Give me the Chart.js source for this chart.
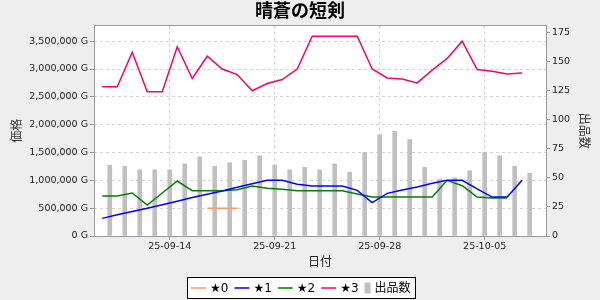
<!DOCTYPE html>
<html>
<head>
<meta charset="utf-8">
<script src="https://cdn.jsdelivr.net/npm/chart.js@4.4.0/dist/chart.umd.min.js"></script>
<style>
  html, body { margin: 0; padding: 0; background: #eeeeee; }
</style>
</head>
<body>
<canvas id="priceChart" width="600" height="300"></canvas>
<script>
// Data (one entry per day)
const days = [
  "25-09-09", "25-09-10", "25-09-11", "25-09-12", "25-09-13", "25-09-14", "25-09-15",
  "25-09-16", "25-09-17", "25-09-18", "25-09-19", "25-09-20", "25-09-21", "25-09-22",
  "25-09-23", "25-09-24", "25-09-25", "25-09-26", "25-09-27", "25-09-28", "25-09-29",
  "25-09-30", "25-10-01", "25-10-02", "25-10-03", "25-10-04", "25-10-05", "25-10-06",
  "25-10-07"
];
const tickLabels = ["25-09-14", "25-09-21", "25-09-28", "25-10-05"];
const priceTicks = [0, 500000, 1000000, 1500000, 2000000, 2500000, 3000000, 3500000];
const countTicks = [0, 25, 50, 75, 100, 125, 150, 175];

const star0 = [null, null, null, null, null, null, null, 500000, 500000, 500000,
  null, null, null, null, null, null, null, null, null, null, null, null, null, null,
  null, null, null, null, null];
const star1 = [317000, 380000, 440000, 500000, 560000, 625000, 690000, 750000, 810000,
  875000, 940000, 1000000, 1000000, 928000, 898000, 898000, 898000, 820000, 600000,
  766000, 826000, 880000, 946000, 1000000, 1000000, 845000, 700000, 700000, 1000000];
const star2 = [719000, 719000, 772000, 557000, 772000, 988000, 814000, 814000, 814000,
  832000, 898000, 856000, 838000, 814000, 814000, 814000, 814000, 754000, 700000,
  700000, 700000, 700000, 700000, 1000000, 904000, 700000, 683000, 683000, null];
const star3 = [2680000, 2680000, 3300000, 2590000, 2590000, 3400000, 2830000, 3230000,
  3000000, 2900000, 2610000, 2740000, 2810000, 3000000, 3590000, 3590000, 3590000,
  3590000, 3000000, 2840000, 2820000, 2750000, 2980000, 3190000, 3500000, 2990000,
  2960000, 2910000, 2930000];
const listings = [61, 60, 57, 57, 57, 62, 68, 60, 63, 65, 69, 61, 57, 59, 57, 62, 55,
  72, 87, 90, 83, 59, 49, 50, 56, 72, 69, 60, 54];

const FONT = '"DejaVu Sans", "Noto Sans CJK JP", sans-serif';

// prices are sampled mid-day, listing counts at the end of the day
const linePoints = (arr) => arr.map((v, i) => ({ x: i + 0.5, y: v }));
const barPoints = (arr) => arr.map((v, i) => ({ x: i + 1, y: v }));

const lineSet = (label, data, color) => ({
  type: "line",
  label: label,
  data: linePoints(data),
  borderColor: color,
  backgroundColor: color,
  borderWidth: 1.5,
  pointRadius: 0,
  tension: 0,
  spanGaps: false,
  yAxisID: "y"
});

// white plot area + grey frame
const frame = {
  id: "frame",
  beforeDraw(chart) {
    const { ctx, chartArea: a } = chart;
    ctx.save();
    ctx.fillStyle = "#eeeeee";
    ctx.fillRect(0, 0, chart.width, chart.height);
    ctx.fillStyle = "#ffffff";
    ctx.fillRect(a.left, a.top, a.right - a.left, a.bottom - a.top);
    ctx.restore();
  },
  afterDatasetsDraw(chart) {
    const { ctx, chartArea: a } = chart;
    const l = Math.floor(a.left) + 0.5, t = Math.floor(a.top) + 0.5;
    const r = Math.floor(a.right) + 0.5, b = Math.floor(a.bottom) + 0.5;
    ctx.save();
    ctx.strokeStyle = "#999999";
    ctx.lineWidth = 1;
    ctx.strokeRect(l, t, r - l, b - t);
    ctx.restore();
  }
};

// boxed legend at the bottom
const boxLegend = {
  id: "boxLegend",
  afterDraw(chart) {
    const ctx = chart.ctx;
    ctx.save();
    ctx.font = "12px " + FONT;
    const items = chart.data.datasets.map((ds) => {
      const isBar = ds.type === "bar";
      return {
        text: ds.label,
        color: isBar ? ds.backgroundColor : ds.borderColor,
        isBar: isBar,
        sym: isBar ? 6 : 15,
        tw: ctx.measureText(ds.label).width
      };
    });
    const gap = 4, itemGap = 6;
    let total = 0;
    items.forEach((it, i) => { total += it.sym + gap + it.tw + (i ? itemGap : 0); });
    const boxW = Math.round(total + 8), boxH = 21;
    const bx = Math.round(301 - boxW / 2) + 0.5;
    const by = chart.height - 22.5;
    ctx.fillStyle = "#ffffff";
    ctx.fillRect(bx, by, boxW, boxH);
    ctx.strokeStyle = "#000000";
    ctx.lineWidth = 1;
    ctx.strokeRect(bx, by, boxW, boxH);
    const cy = by + boxH / 2;
    let x = bx + 3.5;
    ctx.textBaseline = "middle";
    items.forEach((it, i) => {
      if (i) x += itemGap;
      if (it.isBar) {
        ctx.fillStyle = it.color;
        ctx.fillRect(x, cy - 5.5, it.sym, 11);
      } else {
        ctx.strokeStyle = it.color;
        ctx.lineWidth = 1.5;
        ctx.beginPath();
        ctx.moveTo(x, cy);
        ctx.lineTo(x + it.sym, cy);
        ctx.stroke();
      }
      x += it.sym + gap;
      ctx.fillStyle = "#000000";
      ctx.fillText(it.text, x, cy + 0.5);
      x += it.tw;
    });
    ctx.restore();
  }
};

const tickFont = { family: FONT, size: 9.5 };
const titleFont = { family: FONT, size: 12 };

new Chart(document.getElementById("priceChart").getContext("2d"), {
  data: {
    datasets: [
      lineSet("★0", star0, "#ff9966"),
      lineSet("★1", star1, "#0000ff"),
      lineSet("★2", star2, "#008000"),
      lineSet("★3", star3, "#ff0066"),
      {
        type: "bar",
        label: "出品数",
        data: barPoints(listings),
        backgroundColor: "#c0c0c0",
        barThickness: 4,
        yAxisID: "y1"
      }
    ]
  },
  options: {
    responsive: false,
    animation: false,
    devicePixelRatio: 1,
    layout: { padding: { left: 0, right: 0, top: 0, bottom: 30 } },
    plugins: {
      legend: { display: false },
      tooltip: { enabled: false },
      title: {
        display: true,
        text: "晴蒼の短剣",
        color: "#000000",
        font: { family: FONT, size: 18, weight: "bold" },
        padding: { top: 2, bottom: 2 }
      }
    },
    scales: {
      x: {
        type: "linear",
        offset: false,
        min: -0.05,
        max: 30.09,
        afterBuildTicks: (scale) => {
          scale.ticks = tickLabels.map((t) => ({ value: days.indexOf(t) }));
        },
        afterFit: (scale) => { scale.height = 34; },
        ticks: {
          autoSkip: false,
          maxRotation: 0,
          padding: 1,
          color: "#222222",
          font: tickFont,
          callback: (v, i) => tickLabels[i]
        },
        grid: { offset: false, color: "#d4d4d4", tickColor: "#999999", tickLength: 4 },
        border: { display: false, dash: [3, 3] },
        title: {
          display: true,
          text: "日付",
          color: "#222222",
          font: titleFont,
          padding: { top: 0, bottom: 0 }
        }
      },
      y: {
        position: "left",
        min: 0,
        max: 3780000,
        afterBuildTicks: (scale) => {
          scale.ticks = priceTicks.map((v) => ({ value: v }));
        },
        afterFit: (scale) => { scale.width = 94; },
        ticks: {
          padding: 2,
          color: "#222222",
          font: tickFont,
          callback: (v) => v.toLocaleString("en-US") + " G"
        },
        grid: { color: "#d4d4d4", tickColor: "#999999", tickLength: 4 },
        border: { display: false, dash: [3, 3] },
        title: {
          display: true,
          text: "価格",
          color: "#333333",
          font: titleFont,
          padding: { top: 11, bottom: 0 }
        }
      },
      y1: {
        position: "right",
        min: 0,
        max: 181,
        afterBuildTicks: (scale) => {
          scale.ticks = countTicks.map((v) => ({ value: v }));
        },
        afterFit: (scale) => { scale.width = 54; },
        ticks: {
          padding: 2,
          color: "#222222",
          font: tickFont
        },
        grid: { drawOnChartArea: false, tickColor: "#999999", tickLength: 4 },
        border: { display: false },
        title: {
          display: true,
          text: "出品数",
          color: "#333333",
          font: titleFont,
          padding: { top: 10, bottom: 0 }
        }
      }
    }
  },
  plugins: [frame, boxLegend]
});
</script>
</body>
</html>
